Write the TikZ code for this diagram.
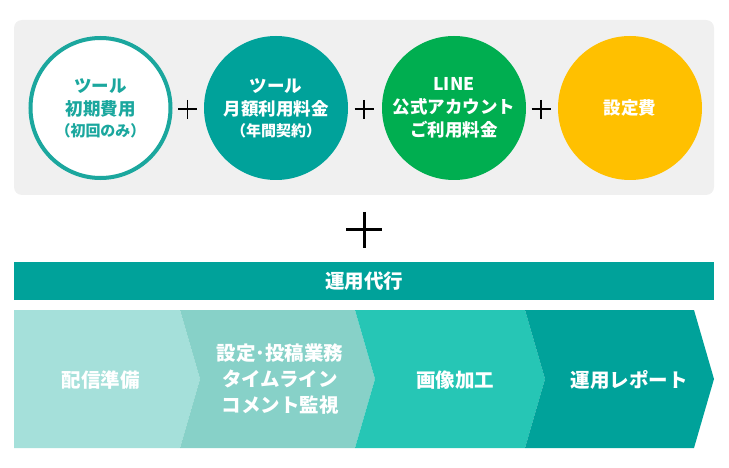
\documentclass[tikz,border=0pt]{standalone}
\usepackage{fontspec}
\setmainfont{Noto Sans CJK JP}
\definecolor{panel}{HTML}{F0F0F0}
\definecolor{teal}{HTML}{00A29A}
\definecolor{tealring}{HTML}{1BA79E}
\definecolor{linegreen}{HTML}{00AE50}
\definecolor{amber}{HTML}{FFC000}
\definecolor{stepA}{HTML}{A5E0DA}
\definecolor{stepB}{HTML}{87D1C8}
\definecolor{stepC}{HTML}{26C6B5}
\newcommand\notefont{\fontsize{15}{18}\selectfont}
\begin{document}
\begin{tikzpicture}[x=1pt, y=-1pt,
  fee/.style={circle, minimum size=144pt, inner sep=0pt, align=center,
    font=\fontsize{17.5}{23}\selectfont\bfseries, text=white},
  flow/.style={align=center, text=white,
    font=\fontsize{19.5}{26}\selectfont\bfseries}]
\useasboundingbox (0,0) rectangle (729,468);
\fill[panel, rounded corners=8pt] (14,20) rectangle (714,195);
\node[fee, draw=tealring, line width=4pt, fill=white, text=tealring, minimum size=140pt] (tool) at (100.5,108)
  {ツール\\初期費用\\[-2pt]{\notefont（初回のみ）}};
\node[fee, fill=teal] (monthly) at (276,108)
  {ツール\\月額利用料金\\[-2pt]{\notefont（年間契約）}};
\node[fee, fill=linegreen] (line) at (454,108) {LINE\\公式アカウント\\ご利用料金};
\node[fee, fill=amber] (setup) at (630,108) {設定費};
\foreach \x in {187.5,364,541}
  \draw[line width=1.3pt] (\x-9.5,109) -- (\x+9.5,109) (\x,100) -- (\x,119);
\draw[line width=3pt] (346,230) -- (382,230) (364,212) -- (364,248);
\fill[teal] (14,262) rectangle (714,300);
\node[flow] (ops) at (364,281) {運用代行};
\fill[stepA] (14,310) -- (180,310) -- (200,379) -- (180,448) -- (14,448) -- cycle;
\fill[stepB] (180,310) -- (355,310) -- (375,379) -- (355,448) -- (180,448) -- (200,379) -- cycle;
\fill[stepC] (355,310) -- (525,310) -- (545,379) -- (525,448) -- (355,448) -- (375,379) -- cycle;
\fill[teal] (525,310) -- (694,310) -- (714,379) -- (694,448) -- (525,448) -- (545,379) -- cycle;
\node[flow] (prep) at (100.5,380) {配信準備};
\node[flow] (post) at (280,379) {設定･投稿業務\\タイムライン\\コメント監視};
\node[flow] (image) at (455,380) {画像加工};
\node[flow] (report) at (629,380) {運用レポート};
\end{tikzpicture}
\end{document}
